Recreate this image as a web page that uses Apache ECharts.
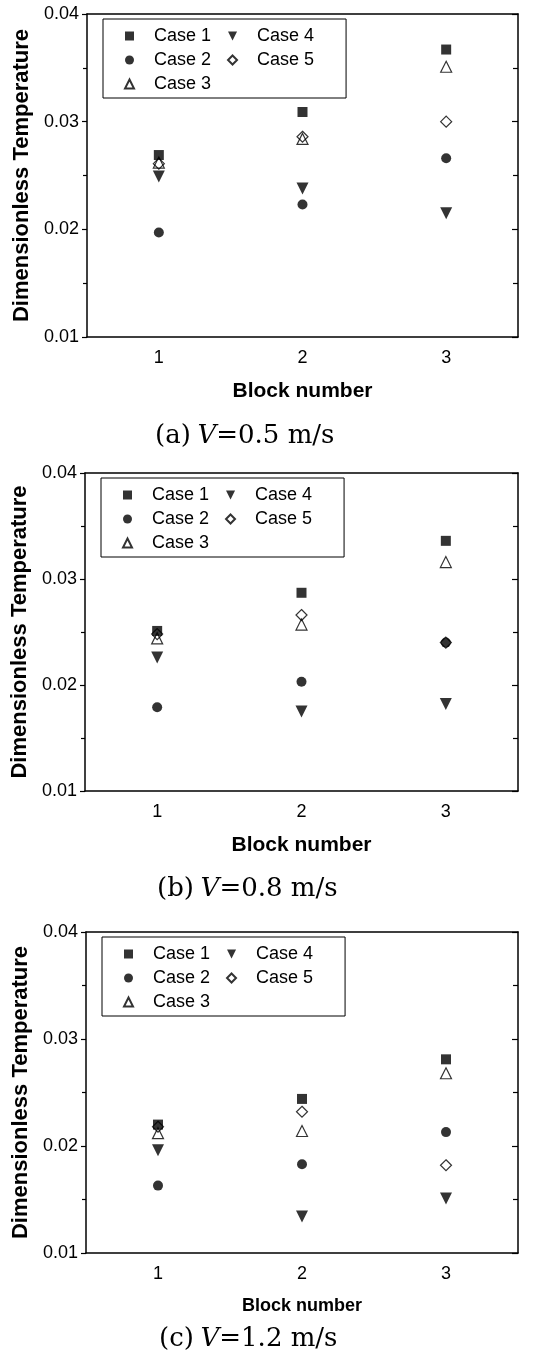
<!DOCTYPE html>
<html>
<head>
<meta charset="utf-8">
<title>Dimensionless Temperature</title>
<script src="https://cdn.jsdelivr.net/npm/echarts@6.0.0/dist/echarts.min.js"></script>
<style>
  html, body { margin: 0; padding: 0; background: #fff; }
  #main { width: 533px; height: 1355px; }
</style>
</head>
<body>
<div id="main"></div>
<script>
// block numbers on the x axis
const blocks = ['1', '2', '3'];
const caseNames = ['Case 1', 'Case 2', 'Case 3', 'Case 4', 'Case 5'];

// (a) V = 0.5 m/s
const a1 = [0.0269, 0.0309, 0.0367];
const a2 = [0.0197, 0.0223, 0.0266];
const a3 = [0.0262, 0.0284, 0.0351];
const a4 = [0.0249, 0.0238, 0.0215];
const a5 = [0.0261, 0.0286, 0.0300];

// (b) V = 0.8 m/s
const b1 = [0.0251, 0.0287, 0.0336];
const b2 = [0.0179, 0.0203, 0.0240];
const b3 = [0.0244, 0.0257, 0.0316];
const b4 = [0.0226, 0.0175, 0.0182];
const b5 = [0.0248, 0.0266, 0.0240];

// (c) V = 1.2 m/s
const c1 = [0.0220, 0.0244, 0.0281];
const c2 = [0.0163, 0.0183, 0.0213];
const c3 = [0.0212, 0.0214, 0.0268];
const c4 = [0.0196, 0.0134, 0.0151];
const c5 = [0.0218, 0.0232, 0.0182];

const captions = ['(a)', '(b)', '(c)'];
const speeds = ['0.5', '0.8', '1.2'];

const panels = [[a1, a2, a3, a4, a5], [b1, b2, b3, b4, b5], [c1, c2, c3, c4, c5]];

const sansFont = 'Arial, "Liberation Sans", sans-serif';
const serifFont = '"DejaVu Serif", serif';

// grid placement for each panel
const grids = [
    { left: 87, right: 15, top: 14, height: 323 },
    { left: 85, right: 15, top: 473, height: 318 },
    { left: 86, right: 15, top: 932, height: 321 }
];
const xNameSize = [21, 21, 18];
const captionTop = [423, 876, 1326];
const captionLeft = [155, 157, 159];

const downTriangle = 'path://M0,0 L10,0 L5,10 Z';

const markerStyles = [
    { symbol: 'rect', symbolSize: 10, symbolRotate: 0, itemStyle: { color: '#000' } },
    { symbol: 'circle', symbolSize: 10, symbolRotate: 0, itemStyle: { color: '#000' } },
    { symbol: 'triangle', symbolSize: 11, symbolRotate: 0, itemStyle: { color: 'rgba(255,255,255,0)', borderColor: '#000', borderWidth: 1.2 } },
    { symbol: 'triangle', symbolSize: 12, symbolRotate: 180, itemStyle: { color: '#000' } },
    { symbol: 'diamond', symbolSize: 11, symbolRotate: 0, itemStyle: { color: 'rgba(255,255,255,0)', borderColor: '#000', borderWidth: 1.2 } }
];

let xAxes = [], yAxes = [], series = [], legends = [], graphics = [];

grids.forEach((g, i) => {
    xAxes.push({
        type: 'category', gridIndex: i, data: blocks, boundaryGap: true,
        name: 'Block number', nameLocation: 'middle', nameGap: 44,
        nameTextStyle: { fontFamily: sansFont, fontWeight: 'bold', fontSize: xNameSize[i], color: '#000' },
        axisLine: { lineStyle: { color: '#000', width: 1.5 } },
        axisTick: { alignWithLabel: true, length: 5, lineStyle: { color: '#000', width: 1.2 } },
        axisLabel: { fontFamily: sansFont, fontSize: 18, color: '#000', margin: 12 },
        splitLine: { show: false }
    });
    xAxes.push({
        type: 'category', gridIndex: i, data: blocks, boundaryGap: true, position: 'top',
        axisLine: { lineStyle: { color: '#000', width: 1.5 } },
        axisTick: { alignWithLabel: true, inside: true, length: 6, lineStyle: { color: '#000', width: 1.2 } },
        axisLabel: { show: false },
        splitLine: { show: false }
    });
    yAxes.push({
        type: 'value', gridIndex: i, min: 0.01, max: 0.04, interval: 0.01,
        name: 'Dimensionless Temperature', nameLocation: 'middle', nameGap: 51, nameRotate: 90,
        nameTextStyle: { fontFamily: sansFont, fontWeight: 'bold', fontSize: 22, color: '#000' },
        axisLine: { show: true, lineStyle: { color: '#000', width: 1.5 } },
        axisTick: { show: true, length: 5, lineStyle: { color: '#000', width: 1.2 } },
        minorTick: { show: true, splitNumber: 2, length: 4, lineStyle: { color: '#000', width: 1.2 } },
        axisLabel: { fontFamily: sansFont, fontSize: 18, color: '#000', margin: 8, formatter: v => v.toFixed(2) },
        splitLine: { show: false }
    });
    yAxes.push({
        type: 'value', gridIndex: i, min: 0.01, max: 0.04, interval: 0.01, position: 'right',
        axisLine: { show: true, lineStyle: { color: '#000', width: 1.5 } },
        axisTick: { show: true, inside: true, length: 6, lineStyle: { color: '#000', width: 1.2 } },
        minorTick: { show: true, splitNumber: 2, length: 5, lineStyle: { color: '#000', width: 1.2 } },
        axisLabel: { show: false },
        splitLine: { show: false }
    });

    panels[i].forEach((vals, k) => {
        const m = markerStyles[k];
        series.push({
            name: caseNames[k], type: 'scatter',
            xAxisIndex: i * 2, yAxisIndex: i * 2,
            symbol: m.symbol, symbolSize: m.symbolSize, symbolRotate: m.symbolRotate,
            itemStyle: m.itemStyle,
            emphasis: { disabled: true },
            z: 2 + k,
            data: vals.map((v, j) => [blocks[j], v])
        });
    });

    // two-column legend box: Case 1-3 left, Case 4-5 right
    legends.push({
        data: caseNames.map((n, k) => k === 3 ? { name: n, icon: downTriangle } : n),
        orient: 'vertical', left: g.left + 16, top: g.top + 5,
        height: 68, itemWidth: 9, itemHeight: 9, itemGap: 6,
        padding: [8, 22, 5, 21], borderColor: '#000', borderWidth: 1,
        selectedMode: false,
        formatter: name => name + '  ',
        textStyle: { fontFamily: sansFont, fontSize: 18, color: '#000', padding: [0, 0, 0, 15] }
    });

    graphics.push({
        type: 'text', left: captionLeft[i], top: captionTop[i],
        style: {
            text: '{n|' + captions[i] + '}  {i|V}{n|=' + speeds[i] + ' m/s}',
            rich: {
                n: { fontFamily: serifFont, fontSize: 26, fill: '#000' },
                i: { fontFamily: serifFont, fontSize: 26, fontStyle: 'italic', fill: '#000' }
            }
        }
    });
});

const chart = echarts.init(document.getElementById('main'));
chart.setOption({
    animation: false,
    backgroundColor: '#fff',
    grid: grids.map(g => Object.assign({ show: false }, g)),
    xAxis: xAxes,
    yAxis: yAxes,
    legend: legends,
    graphic: graphics,
    series: series
});
</script>
</body>
</html>
